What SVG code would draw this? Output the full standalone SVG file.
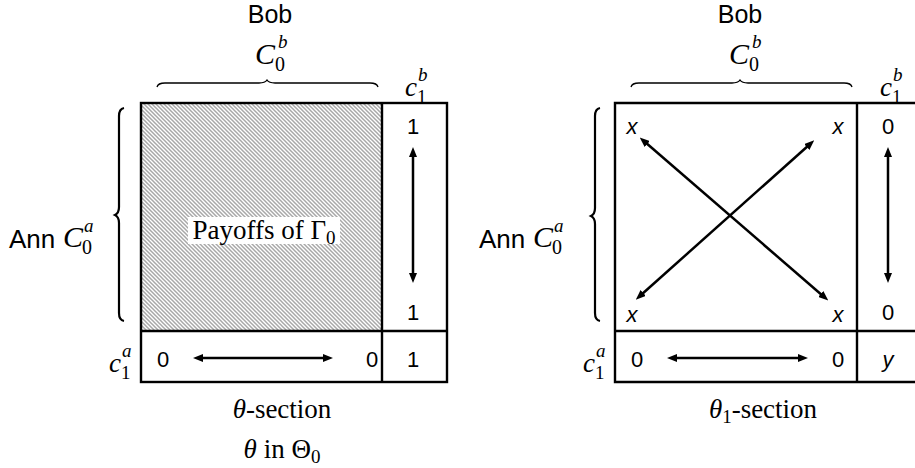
<svg xmlns="http://www.w3.org/2000/svg" width="915" height="468" viewBox="0 0 915 468">
<style>
.sans{font-family:"Liberation Sans",Arial,sans-serif;fill:#000}
.ser{font-family:"Liberation Serif","Times New Roman",serif;fill:#000}
.it{font-style:italic}
.box{fill:none;stroke:#000;stroke-width:2.4}
.arr{stroke:#000;stroke-width:2.5;fill:none;marker-start:url(#ah);marker-end:url(#ah)}
.brace{fill:none;stroke:#000}
.num{font-size:22px}
</style>
<defs>
<marker id="ah" viewBox="0 0 10 8" refX="3" refY="4" markerWidth="10" markerHeight="8" markerUnits="userSpaceOnUse" orient="auto-start-reverse">
<path d="M0,0 L10,4 L0,8 z" fill="#000"/>
</marker>
<pattern id="hatch" patternUnits="userSpaceOnUse" width="4" height="4">
<rect width="4" height="4" fill="#fff"/>
<path d="M-1,-1 L5,5 M-1,3 L1,5 M3,-1 L5,1" stroke="#a8a8a8" stroke-width="1.5"/>
</pattern>
</defs>

<g id="left-section">
<text class="sans" x="270" y="23" font-size="25" text-anchor="middle">Bob</text>
<text class="ser it" x="255" y="64" font-size="30">C</text>
<text class="ser" x="275" y="71" font-size="20">0</text>
<text class="ser it" x="278" y="48" font-size="19">b</text>
<path class="brace" stroke-width="1.3" d="M157,87 Q158,83 165,83 L259,83 Q265,83 267,80 Q269,83 275,83 L370,83 Q377,83 378,87"/>
<text class="ser it" x="405" y="96" font-size="27">c</text>
<text class="ser" x="417" y="103" font-size="19">1</text>
<text class="ser it" x="418" y="81" font-size="19">b</text>

<text class="sans" x="9" y="248" font-size="26">Ann</text>
<text class="ser it" x="63" y="247" font-size="30">C</text>
<text class="ser" x="82" y="254" font-size="20">0</text>
<text class="ser it" x="84" y="232" font-size="19">a</text>
<path class="brace" stroke-width="2.2" d="M124,108 Q119,109 119,116 L119,207 Q119,213 115,215 Q119,217 119,223 L119,313 Q119,320 124,321"/>

<text class="ser it" x="109" y="372" font-size="27">c</text>
<text class="ser" x="121" y="379" font-size="19">1</text>
<text class="ser it" x="122" y="357" font-size="19">a</text>

<rect x="141" y="103" width="241" height="228" fill="url(#hatch)"/>
<rect x="188" y="217" width="152" height="27" fill="#fff"/>
<text class="ser" x="264" y="239" font-size="27" text-anchor="middle">Payoffs of Γ<tspan font-size="19" dy="5">0</tspan></text>

<rect class="box" x="141" y="103" width="306" height="279"/>
<line class="box" x1="382" y1="103" x2="382" y2="382"/>
<line class="box" x1="141" y1="331" x2="447" y2="331"/>

<text class="sans num" x="413" y="134" text-anchor="middle">1</text>
<text class="sans num" x="413" y="320" text-anchor="middle">1</text>
<line class="arr" x1="413" y1="154" x2="413" y2="276"/>

<text class="sans num" x="163" y="367" text-anchor="middle">0</text>
<text class="sans num" x="372" y="367" text-anchor="middle">0</text>
<text class="sans num" x="413" y="367" text-anchor="middle">1</text>
<line class="arr" x1="200" y1="358" x2="326" y2="358"/>

<text class="ser" x="282" y="418" font-size="27" text-anchor="middle"><tspan class="it">θ</tspan>-section</text>
<text class="ser" x="282" y="458" font-size="27" text-anchor="middle"><tspan class="it">θ</tspan> in Θ<tspan font-size="19" dy="5">0</tspan></text>
</g>

<g id="right-section">
<text class="sans" x="740" y="23" font-size="25" text-anchor="middle">Bob</text>
<text class="ser it" x="729" y="64" font-size="30">C</text>
<text class="ser" x="749" y="71" font-size="20">0</text>
<text class="ser it" x="752" y="48" font-size="19">b</text>
<path class="brace" stroke-width="1.3" d="M631,87 Q632,83 639,83 L732,83 Q738,83 740,80 Q742,83 748,83 L844,83 Q851,83 852,87"/>
<text class="ser it" x="880" y="96" font-size="27">c</text>
<text class="ser" x="892" y="103" font-size="19">1</text>
<text class="ser it" x="893" y="81" font-size="19">b</text>

<text class="sans" x="479" y="248" font-size="26">Ann</text>
<text class="ser it" x="533" y="247" font-size="30">C</text>
<text class="ser" x="552" y="254" font-size="20">0</text>
<text class="ser it" x="554" y="232" font-size="19">a</text>
<path class="brace" stroke-width="2.2" d="M600,108 Q595,109 595,116 L595,208 Q595,214 591,216 Q595,218 595,224 L595,313 Q595,320 600,321"/>

<text class="ser it" x="583" y="372" font-size="27">c</text>
<text class="ser" x="595" y="379" font-size="19">1</text>
<text class="ser it" x="596" y="357" font-size="19">a</text>

<path class="box" d="M925,103 L615,103 L615,382 L925,382 M857,103 L857,382 M615,331 L925,331"/>

<text class="sans it num" x="632" y="134" text-anchor="middle">x</text>
<text class="sans it num" x="838" y="134" text-anchor="middle">x</text>
<text class="sans it num" x="632" y="322" text-anchor="middle">x</text>
<text class="sans it num" x="838" y="322" text-anchor="middle">x</text>
<text class="sans num" x="888" y="134" text-anchor="middle">0</text>
<text class="sans num" x="888" y="320" text-anchor="middle">0</text>
<line class="arr" x1="888" y1="154" x2="888" y2="276"/>

<line class="arr" x1="645" y1="142" x2="823" y2="296"/>
<line class="arr" x1="809" y1="145" x2="641" y2="295"/>

<text class="sans num" x="637" y="367" text-anchor="middle">0</text>
<text class="sans num" x="838" y="367" text-anchor="middle">0</text>
<text class="sans it num" x="888" y="367" text-anchor="middle">y</text>
<line class="arr" x1="674" y1="358" x2="801" y2="358"/>

<text class="ser" x="763" y="418" font-size="27" text-anchor="middle"><tspan class="it">θ</tspan><tspan font-size="19" dy="5">1</tspan><tspan dy="-5">-section</tspan></text>
</g>
</svg>
